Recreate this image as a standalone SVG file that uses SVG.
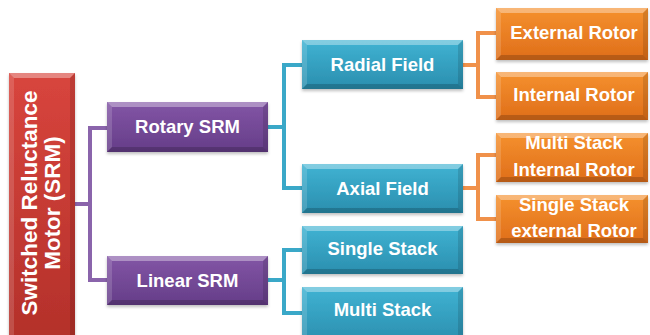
<svg xmlns="http://www.w3.org/2000/svg" width="650" height="335" viewBox="0 0 650 335">
<defs>
<linearGradient id="gRed" x1="0" y1="0" x2="0" y2="1"><stop offset="0" stop-color="#d8453d"/><stop offset="1" stop-color="#b3302a"/></linearGradient>
<linearGradient id="gPur" x1="0" y1="0" x2="0" y2="1"><stop offset="0" stop-color="#8356a6"/><stop offset="1" stop-color="#653d88"/></linearGradient>
<linearGradient id="gCyan" x1="0" y1="0" x2="0" y2="1"><stop offset="0" stop-color="#40b3d3"/><stop offset="1" stop-color="#2a8eae"/></linearGradient>
<linearGradient id="gOra" x1="0" y1="0" x2="0" y2="1"><stop offset="0" stop-color="#f5912e"/><stop offset="1" stop-color="#df6e1a"/></linearGradient>
<filter id="sh" x="-10%" y="-10%" width="120%" height="130%"><feDropShadow dx="0" dy="2" stdDeviation="1.5" flood-color="#000" flood-opacity="0.25"/></filter>
</defs>
<style>
.t{font-family:"Liberation Sans",Arial,sans-serif;font-weight:bold;font-size:18.5px;fill:#fff;text-anchor:middle}
.rt{font-size:22.5px}
.bt{fill:#fff;fill-opacity:0.35}
.bl{fill:#fff;fill-opacity:0.15}
.br{fill:#000;fill-opacity:0.12}
.bb{fill:#000;fill-opacity:0.18}
.c{fill:none;stroke-width:4;stroke-linejoin:miter}
.cp{stroke:#8a64ab}
.cc{stroke:#3aa8c8}
.co{stroke:#f0914a}
</style>
<g id="connectors">
<path class="c cp" d="M75,204 H90 M107,128 H90 V280 H107"/>
<path class="c cc" d="M268,127 H284 M302,65 H284 V188 H302"/>
<path class="c cc" d="M268,280 H284 M302,250 H284 V313 H302"/>
<path class="c co" d="M463,65 H478 M496,33 H478 V97 H496"/>
<path class="c co" d="M463,188 H478 M496,155 H478 V219 H496"/>
</g>
<g id="root">
<rect x="9" y="73" width="66" height="270" fill="url(#gRed)" filter="url(#sh)"/>
<polygon class="bt" points="9,73 75,73 70,78 14,78"/>
<polygon class="bl" points="9,73 14,78 14,343 9,343"/>
<polygon class="br" points="75,73 75,343 70,343 70,78"/>
<text class="t rt" transform="translate(37,203) rotate(-90)" x="0" y="0">Switched Reluctance</text>
<text class="t rt" transform="translate(60,203) rotate(-90)" x="0" y="0">Motor (SRM)</text>
</g>
<g id="rotary">
<rect x="107" y="102" width="161" height="50" fill="url(#gPur)" filter="url(#sh)"/>
<polygon class="bt" points="107,102 268,102 263,107 112,107"/>
<polygon class="bl" points="107,102 112,107 112,147 107,152"/>
<polygon class="br" points="268,102 268,152 263,147 263,107"/>
<polygon class="bb" points="107,152 268,152 263,147 112,147"/>
<text class="t" x="187.5" y="133">Rotary SRM</text>
</g>
<g id="linear">
<rect x="107" y="256" width="161" height="49" fill="url(#gPur)" filter="url(#sh)"/>
<polygon class="bt" points="107,256 268,256 263,261 112,261"/>
<polygon class="bl" points="107,256 112,261 112,300 107,305"/>
<polygon class="br" points="268,256 268,305 263,300 263,261"/>
<polygon class="bb" points="107,305 268,305 263,300 112,300"/>
<text class="t" x="187.5" y="287">Linear SRM</text>
</g>
<g id="radial">
<rect x="302" y="40" width="161" height="49" fill="url(#gCyan)" filter="url(#sh)"/>
<polygon class="bt" points="302,40 463,40 458,45 307,45"/>
<polygon class="bl" points="302,40 307,45 307,84 302,89"/>
<polygon class="br" points="463,40 463,89 458,84 458,45"/>
<polygon class="bb" points="302,89 463,89 458,84 307,84"/>
<text class="t" x="382.5" y="71">Radial Field</text>
</g>
<g id="axial">
<rect x="302" y="164" width="161" height="49" fill="url(#gCyan)" filter="url(#sh)"/>
<polygon class="bt" points="302,164 463,164 458,169 307,169"/>
<polygon class="bl" points="302,164 307,169 307,208 302,213"/>
<polygon class="br" points="463,164 463,213 458,208 458,169"/>
<polygon class="bb" points="302,213 463,213 458,208 307,208"/>
<text class="t" x="382.5" y="195">Axial Field</text>
</g>
<g id="single">
<rect x="302" y="226" width="161" height="48" fill="url(#gCyan)" filter="url(#sh)"/>
<polygon class="bt" points="302,226 463,226 458,231 307,231"/>
<polygon class="bl" points="302,226 307,231 307,269 302,274"/>
<polygon class="br" points="463,226 463,274 458,269 458,231"/>
<polygon class="bb" points="302,274 463,274 458,269 307,269"/>
<text class="t" x="382.5" y="255">Single Stack</text>
</g>
<g id="multi">
<rect x="302" y="287" width="161" height="56" fill="url(#gCyan)" filter="url(#sh)"/>
<polygon class="bt" points="302,287 463,287 458,292 307,292"/>
<polygon class="bl" points="302,287 307,292 307,343 302,343"/>
<polygon class="br" points="463,287 463,343 458,343 458,292"/>
<text class="t" x="382.5" y="316">Multi Stack</text>
</g>
<g id="external">
<rect x="496" y="8" width="152" height="52" fill="url(#gOra)" filter="url(#sh)"/>
<polygon class="bt" points="496,8 648,8 643,13 501,13"/>
<polygon class="bl" points="496,8 501,13 501,55 496,60"/>
<polygon class="br" points="648,8 648,60 643,55 643,13"/>
<polygon class="bb" points="496,60 648,60 643,55 501,55"/>
<text class="t" x="574" y="39">External Rotor</text>
</g>
<g id="internal">
<rect x="496" y="72" width="152" height="48" fill="url(#gOra)" filter="url(#sh)"/>
<polygon class="bt" points="496,72 648,72 643,77 501,77"/>
<polygon class="bl" points="496,72 501,77 501,115 496,120"/>
<polygon class="br" points="648,72 648,120 643,115 643,77"/>
<polygon class="bb" points="496,120 648,120 643,115 501,115"/>
<text class="t" x="574" y="101">Internal Rotor</text>
</g>
<g id="multiInternal">
<rect x="496" y="133" width="152" height="49" fill="url(#gOra)" filter="url(#sh)"/>
<polygon class="bt" points="496,133 648,133 643,138 501,138"/>
<polygon class="bl" points="496,133 501,138 501,177 496,182"/>
<polygon class="br" points="648,133 648,182 643,177 643,138"/>
<polygon class="bb" points="496,182 648,182 643,177 501,177"/>
<text class="t" x="574" y="149">Multi Stack</text>
<text class="t" x="574" y="176">Internal Rotor</text>
</g>
<g id="singleExternal">
<rect x="496" y="195" width="152" height="48" fill="url(#gOra)" filter="url(#sh)"/>
<polygon class="bt" points="496,195 648,195 643,200 501,200"/>
<polygon class="bl" points="496,195 501,200 501,238 496,243"/>
<polygon class="br" points="648,195 648,243 643,238 643,200"/>
<polygon class="bb" points="496,243 648,243 643,238 501,238"/>
<text class="t" x="574" y="211">Single Stack</text>
<text class="t" x="574" y="237">external Rotor</text>
</g>
</svg>
